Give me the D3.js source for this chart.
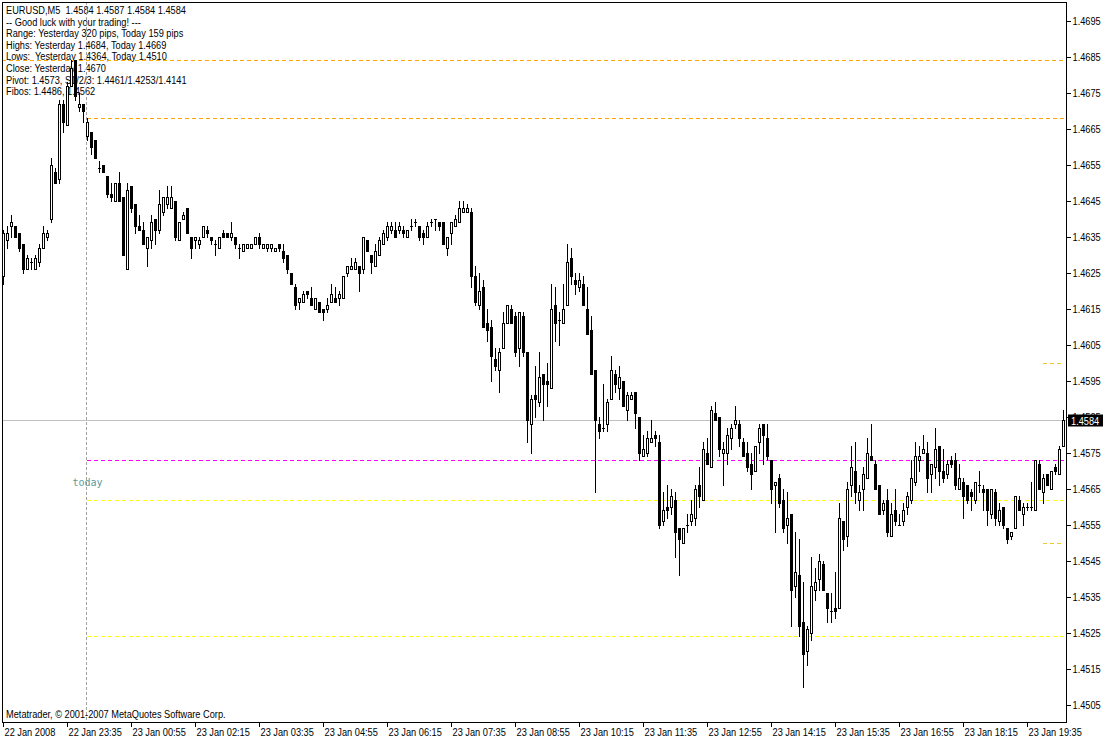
<!DOCTYPE html>
<html><head><meta charset="utf-8">
<script src="https://cdn.jsdelivr.net/npm/d3@7/dist/d3.min.js"></script>
<style>body{margin:0;background:#fff;}svg{display:block;}</style>
</head><body>
<svg id="chart" width="1104" height="740"></svg>
<script>
// ---- data (EURUSD M5, 22 Jan 2008 22:15 onwards) ----
const open = [
1.4624,1.4634,1.4638,1.4638,1.4636,1.4633,1.4626,1.4628,1.4626,1.4628,
1.4632,1.4635,1.4640,1.4653,1.4651,1.4672,1.4666,1.4677,1.4684,1.4671,
1.4672,1.4663,1.4664,1.4662,1.4654,1.4655,1.4652,1.4647,1.4645,1.4650,
1.4646,1.4626,1.4649,1.4644,1.4638,1.4637,1.4632,1.4634,1.4640,1.4637,
1.4642,1.4644,1.4643,1.4645,1.4634,1.4640,1.4643,1.4635,1.4634,1.4633,
1.4635,1.4637,1.4635,1.4633,1.4632,1.4636,1.4636,1.4635,1.4635,1.4632,
1.4631,1.4632,1.4632,1.4633,1.4635,1.4632,1.4632,1.4632,1.4631,1.4633,
1.4631,1.4630,1.4625,1.4621,1.4617,1.4617,1.4620,1.4618,1.4615,1.4617,
1.4615,1.4615,1.4617,1.4618,1.4618,1.4618,1.4625,1.4626,1.4626,1.4627,
1.4626,1.4634,1.4630,1.4627,1.4630,1.4633,1.4635,1.4637,1.4637,1.4637,
1.4637,1.4635,1.4638,1.4639,1.4638,1.4636,1.4635,1.4639,1.4640,1.4639,
1.4639,1.4632,1.4636,1.4638,1.4639,1.4642,1.4642,1.4642,1.4624,1.4616,
1.4621,1.4611,1.4610,1.4601,1.4598,1.4604,1.4611,1.4615,1.4613,1.4604,
1.4613,1.4603,1.4583,1.4591,1.4589,1.4597,1.4595,1.4593,1.4616,1.4612,
1.4611,1.4616,1.4629,1.4623,1.4621,1.4622,1.4615,1.4609,1.4598,1.4583,
1.4582,1.4583,1.4590,1.4597,1.4593,1.4595,1.4587,1.4590,1.4592,1.4585,
1.4574,1.4575,1.4578,1.4580,1.4578,1.4556,1.4560,1.4560,1.4562,1.4554,
1.4550,1.4555,1.4556,1.4557,1.4566,1.4562,1.4575,1.4571,1.4586,1.4585,
1.4575,1.4575,1.4579,1.4583,1.4583,1.4578,1.4575,1.4572,1.4570,1.4578,
1.4583,1.4579,1.4573,1.4566,1.4568,1.4562,1.4555,1.4558,1.4538,1.4541,
1.4528,1.4520,1.4525,1.4537,1.4540,1.4544,1.4536,1.4531,1.4532,1.4532,
1.4556,1.4552,1.4566,1.4570,1.4562,1.4565,1.4568,1.4574,1.4572,1.4566,
1.4559,1.4562,1.4552,1.4559,1.4555,1.4556,1.4560,1.4562,1.4567,1.4573,
1.4575,1.4575,1.4569,1.4571,1.4577,1.4570,1.4569,1.4573,1.4573,1.4565,
1.4567,1.4566,1.4564,1.4562,1.4566,1.4565,1.4565,1.4558,1.4564,1.4556,
1.4560,1.4554,1.4552,1.4554,1.4562,1.4558,1.4560,1.4560,1.4559,1.4572,
1.4564,1.4569,1.4565,1.4571,1.4569,1.4577];
const high = [
1.4637,1.4638,1.4641,1.4638,1.4636,1.4633,1.4630,1.4629,1.4630,1.4633,
1.4638,1.4637,1.4657,1.4654,1.4673,1.4673,1.4678,1.4684,1.4684,1.4675,
1.4672,1.4668,1.4664,1.4662,1.4656,1.4655,1.4652,1.4650,1.4650,1.4653,
1.4646,1.4650,1.4649,1.4644,1.4641,1.4639,1.4635,1.4641,1.4640,1.4648,
1.4646,1.4649,1.4649,1.4645,1.4639,1.4642,1.4643,1.4635,1.4635,1.4635,
1.4638,1.4638,1.4635,1.4634,1.4635,1.4637,1.4636,1.4639,1.4635,1.4633,
1.4633,1.4633,1.4633,1.4635,1.4636,1.4633,1.4633,1.4633,1.4632,1.4633,
1.4633,1.4630,1.4625,1.4622,1.4618,1.4620,1.4620,1.4621,1.4618,1.4617,
1.4615,1.4618,1.4622,1.4621,1.4620,1.4624,1.4627,1.4629,1.4629,1.4627,
1.4635,1.4634,1.4630,1.4633,1.4635,1.4637,1.4639,1.4639,1.4639,1.4639,
1.4638,1.4637,1.4640,1.4640,1.4638,1.4637,1.4639,1.4640,1.4640,1.4639,
1.4639,1.4635,1.4639,1.4641,1.4645,1.4645,1.4644,1.4643,1.4627,1.4625,
1.4623,1.4615,1.4612,1.4604,1.4604,1.4614,1.4616,1.4616,1.4614,1.4614,
1.4614,1.4603,1.4591,1.4599,1.4603,1.4597,1.4600,1.4622,1.4621,1.4614,
1.4622,1.4633,1.4632,1.4625,1.4625,1.4624,1.4621,1.4613,1.4598,1.4585,
1.4594,1.4590,1.4602,1.4598,1.4599,1.4595,1.4592,1.4592,1.4592,1.4585,
1.4580,1.4581,1.4584,1.4581,1.4580,1.4564,1.4566,1.4565,1.4564,1.4554,
1.4554,1.4558,1.4562,1.4566,1.4571,1.4578,1.4579,1.4588,1.4589,1.4585,
1.4578,1.4582,1.4583,1.4588,1.4584,1.4579,1.4578,1.4575,1.4577,1.4583,
1.4583,1.4583,1.4573,1.4567,1.4569,1.4565,1.4564,1.4558,1.4553,1.4551,
1.4539,1.4527,1.4546,1.4543,1.4547,1.4545,1.4536,1.4536,1.4542,1.4561,
1.4556,1.4567,1.4577,1.4578,1.4566,1.4571,1.4579,1.4583,1.4573,1.4566,
1.4562,1.4565,1.4561,1.4565,1.4558,1.4561,1.4564,1.4573,1.4578,1.4577,
1.4580,1.4578,1.4572,1.4582,1.4577,1.4576,1.4573,1.4574,1.4575,1.4572,
1.4568,1.4566,1.4565,1.4567,1.4570,1.4566,1.4565,1.4565,1.4565,1.4561,
1.4560,1.4554,1.4553,1.4563,1.4563,1.4561,1.4561,1.4567,1.4573,1.4573,
1.4569,1.4569,1.4570,1.4572,1.4577,1.4587];
const low = [
1.4622,1.4632,1.4635,1.4635,1.4631,1.4625,1.4626,1.4626,1.4626,1.4627,
1.4632,1.4634,1.4639,1.4650,1.4650,1.4664,1.4666,1.4677,1.4673,1.4670,
1.4667,1.4662,1.4658,1.4657,1.4653,1.4653,1.4646,1.4645,1.4645,1.4645,
1.4630,1.4626,1.4642,1.4636,1.4637,1.4633,1.4627,1.4632,1.4633,1.4636,
1.4641,1.4643,1.4643,1.4634,1.4634,1.4640,1.4636,1.4629,1.4632,1.4632,
1.4635,1.4635,1.4633,1.4630,1.4632,1.4635,1.4635,1.4634,1.4632,1.4629,
1.4631,1.4632,1.4632,1.4633,1.4632,1.4632,1.4631,1.4631,1.4631,1.4631,
1.4628,1.4625,1.4622,1.4615,1.4615,1.4617,1.4618,1.4616,1.4615,1.4614,
1.4612,1.4614,1.4617,1.4617,1.4616,1.4618,1.4624,1.4626,1.4626,1.4620,
1.4625,1.4631,1.4625,1.4627,1.4630,1.4633,1.4634,1.4636,1.4635,1.4636,
1.4635,1.4635,1.4637,1.4638,1.4634,1.4633,1.4635,1.4638,1.4637,1.4637,
1.4633,1.4630,1.4633,1.4638,1.4639,1.4642,1.4642,1.4621,1.4616,1.4615,
1.4610,1.4606,1.4595,1.4598,1.4592,1.4604,1.4611,1.4611,1.4602,1.4599,
1.4602,1.4578,1.4575,1.4585,1.4588,1.4584,1.4588,1.4593,1.4606,1.4605,
1.4611,1.4616,1.4622,1.4619,1.4620,1.4616,1.4608,1.4597,1.4564,1.4579,
1.4581,1.4581,1.4590,1.4592,1.4590,1.4588,1.4584,1.4590,1.4582,1.4573,
1.4574,1.4574,1.4578,1.4577,1.4554,1.4555,1.4557,1.4558,1.4546,1.4541,
1.4550,1.4553,1.4555,1.4555,1.4560,1.4562,1.4572,1.4571,1.4584,1.4574,
1.4566,1.4572,1.4576,1.4582,1.4577,1.4574,1.4570,1.4565,1.4570,1.4575,
1.4572,1.4573,1.4561,1.4553,1.4560,1.4553,1.4550,1.4527,1.4535,1.4524,
1.4510,1.4516,1.4523,1.4534,1.4537,1.4537,1.4528,1.4528,1.4529,1.4532,
1.4548,1.4549,1.4563,1.4561,1.4559,1.4559,1.4568,1.4573,1.4565,1.4558,
1.4558,1.4552,1.4552,1.4555,1.4555,1.4555,1.4558,1.4561,1.4566,1.4570,
1.4575,1.4564,1.4564,1.4568,1.4566,1.4567,1.4568,1.4571,1.4565,1.4565,
1.4557,1.4561,1.4559,1.4561,1.4564,1.4559,1.4555,1.4557,1.4555,1.4555,
1.4554,1.4550,1.4551,1.4554,1.4559,1.4555,1.4559,1.4559,1.4559,1.4565,
1.4561,1.4566,1.4565,1.4569,1.4569,1.4577];
const close = [
1.4636,1.4636,1.4639,1.4635,1.4632,1.4626,1.4629,1.4628,1.4629,1.4632,
1.4636,1.4636,1.4655,1.4650,1.4672,1.4667,1.4677,1.4682,1.4674,1.4672,
1.4670,1.4667,1.4660,1.4657,1.4654,1.4653,1.4647,1.4646,1.4650,1.4645,
1.4630,1.4648,1.4643,1.4638,1.4637,1.4633,1.4635,1.4639,1.4637,1.4644,
1.4646,1.4646,1.4646,1.4635,1.4639,1.4641,1.4636,1.4632,1.4635,1.4634,
1.4638,1.4636,1.4634,1.4633,1.4635,1.4635,1.4635,1.4636,1.4633,1.4632,
1.4633,1.4633,1.4633,1.4635,1.4633,1.4633,1.4633,1.4633,1.4632,1.4632,
1.4629,1.4626,1.4622,1.4616,1.4618,1.4619,1.4619,1.4616,1.4618,1.4614,
1.4614,1.4616,1.4619,1.4617,1.4619,1.4624,1.4627,1.4627,1.4628,1.4625,
1.4635,1.4631,1.4628,1.4631,1.4634,1.4636,1.4638,1.4638,1.4635,1.4638,
1.4636,1.4637,1.4638,1.4639,1.4635,1.4635,1.4638,1.4639,1.4640,1.4638,
1.4633,1.4635,1.4639,1.4640,1.4643,1.4643,1.4643,1.4624,1.4617,1.4620,
1.4610,1.4609,1.4602,1.4599,1.4603,1.4611,1.4616,1.4611,1.4603,1.4614,
1.4603,1.4584,1.4590,1.4590,1.4596,1.4594,1.4594,1.4615,1.4611,1.4612,
1.4615,1.4628,1.4624,1.4622,1.4623,1.4616,1.4608,1.4597,1.4584,1.4581,
1.4582,1.4589,1.4598,1.4594,1.4596,1.4588,1.4591,1.4591,1.4586,1.4575,
1.4576,1.4579,1.4579,1.4579,1.4555,1.4559,1.4559,1.4563,1.4553,1.4551,
1.4554,1.4555,1.4558,1.4565,1.4563,1.4576,1.4572,1.4587,1.4584,1.4576,
1.4576,1.4580,1.4582,1.4584,1.4579,1.4574,1.4571,1.4569,1.4577,1.4582,
1.4580,1.4574,1.4565,1.4567,1.4561,1.4554,1.4557,1.4537,1.4542,1.4527,
1.4519,1.4526,1.4538,1.4539,1.4545,1.4537,1.4532,1.4531,1.4531,1.4557,
1.4551,1.4565,1.4571,1.4564,1.4564,1.4569,1.4575,1.4573,1.4565,1.4558,
1.4561,1.4553,1.4558,1.4556,1.4555,1.4559,1.4563,1.4568,1.4574,1.4574,
1.4576,1.4568,1.4572,1.4576,1.4570,1.4568,1.4572,1.4572,1.4566,1.4568,
1.4563,1.4562,1.4563,1.4567,1.4566,1.4564,1.4559,1.4565,1.4557,1.4559,
1.4555,1.4551,1.4553,1.4563,1.4559,1.4560,1.4560,1.4560,1.4573,1.4565,
1.4568,1.4566,1.4570,1.4570,1.4576,1.4584];

const timeTickBars = [0,16,32,48,64,80,96,112,128,144,160,176,192,208,224,240,256];
const timeTickLabels = ["22 Jan 2008","22 Jan 23:35","23 Jan 00:55","23 Jan 02:15","23 Jan 03:35","23 Jan 04:55","23 Jan 06:15","23 Jan 07:35","23 Jan 08:55","23 Jan 10:15","23 Jan 11:35","23 Jan 12:55","23 Jan 14:15","23 Jan 15:35","23 Jan 16:55","23 Jan 18:15","23 Jan 19:35"];
const priceTicks = [1.4505,1.4515,1.4525,1.4535,1.4545,1.4555,1.4565,1.4575,1.4585,1.4595,1.4605,1.4615,1.4625,1.4635,1.4645,1.4655,1.4665,1.4675,1.4685,1.4695];

const infoLines = [
  "EURUSD,M5  1.4584 1.4587 1.4584 1.4584",
  "-- Good luck with your trading! ---",
  "Range: Yesterday 320 pips, Today 159 pips",
  "Highs: Yesterday 1.4684, Today 1.4669",
  "Lows:  Yesterday 1.4364, Today 1.4510",
  "Close: Yesterday 1.4670",
  "Pivot: 1.4573, S1/2/3: 1.4461/1.4253/1.4141",
  "Fibos: 1.4486, 1.4562"
];
const copyrightText = "Metatrader, \u00A9 2001-2007 MetaQuotes Software Corp.";
const todayLabel = "today";
const todayStartBar = 21;
const bidPrice = 1.4584;
const yesterdayHigh = 1.4684;
const todayLevels = [1.4668, 1.4573, 1.4562, 1.4524];   // today high, pivot, fibo lines
const shortLevels = [1.4600, 1.4550];

// ---- layout ----
const L = 2, R = 1066, T = 2, B = 722;
const FONT = "'Liberation Sans', Arial, sans-serif";
const SX = 0.84;   // horizontal squeeze to mimic the narrow terminal font
const svg = d3.select("#chart");
svg.append("rect").attr("width",1104).attr("height",740).attr("fill","#fff");

const x = d3.scaleLinear().domain([0, open.length - 1]).range([3, 3 + 4*(open.length - 1)]);
const y = d3.scaleLinear().domain([1.45002, 1.47002]).range([B, T]);
const py = p => Math.round(y(p)) + 0.5;

function label(parent, tx, ty, str, fill) {
  return parent.append("text").attr("transform", `translate(${tx},${ty}) scale(${SX},1)`)
    .attr("font-family", FONT).attr("font-size", 11).attr("fill", fill || "#000")
    .attr("xml:space", "preserve").style("white-space", "pre").text(str);
}

// info text
const info = svg.append("g");
infoLines.forEach((t, k) => label(info, 6, 14 + 11.6*k, t));
label(svg, 6, 718, copyrightText);

// level lines
const lines = svg.append("g").attr("shape-rendering","crispEdges").attr("fill","none");
lines.append("line").attr("x1", L).attr("x2", R).attr("y1", py(bidPrice)).attr("y2", py(bidPrice)).attr("stroke", "#c0c0c0");
lines.append("line").attr("x1", L).attr("x2", R).attr("y1", py(yesterdayHigh)).attr("y2", py(yesterdayHigh))
  .attr("stroke", "#FFA500").attr("stroke-dasharray", "4,3");
const xToday = Math.round(x(todayStartBar - 0.25)) + 0.5;
const todayColors = ["#FFA500", "#FF00FF", "#FFFF00", "#FFFF00"];
todayLevels.forEach((p, k) => {
  lines.append("line").attr("x1", xToday).attr("x2", R).attr("y1", py(p)).attr("y2", py(p))
    .attr("stroke", todayColors[k]).attr("stroke-dasharray", "4,3");
});
shortLevels.forEach(p => {
  lines.append("line").attr("x1", 1043).attr("x2", 1064).attr("y1", py(p)).attr("y2", py(p))
    .attr("stroke", "#F2C830").attr("stroke-dasharray", "4,3");
});
lines.append("line").attr("x1", xToday).attr("x2", xToday).attr("y1", T).attr("y2", B)
  .attr("stroke", "#a0a0a0").attr("stroke-dasharray", "3,2");
svg.append("text").attr("x", xToday - 14).attr("y", 486).attr("font-family", "'DejaVu Sans Mono', monospace")
  .attr("font-size", 10).attr("letter-spacing", 0).attr("fill", "#5a9aa0").text(todayLabel);

// candles
const g = svg.append("g").attr("shape-rendering","crispEdges");
open.forEach((o, i) => {
  const c = close[i];
  const cx = Math.round(x(i));
  const yh = Math.round(y(high[i])), yl = Math.round(y(low[i]));
  const yo = Math.round(y(o)), yc = Math.round(y(c));
  g.append("rect").attr("x", cx).attr("y", yh).attr("width", 1).attr("height", Math.max(1, yl - yh + 1)).attr("fill", "#000");
  const top = Math.min(yo, yc), bot = Math.max(yo, yc);
  if (bot - top < 1) {
    g.append("rect").attr("x", cx - 1).attr("y", top).attr("width", 3).attr("height", 1).attr("fill", "#000");
  } else {
    g.append("rect").attr("x", cx - 1).attr("y", top).attr("width", 3).attr("height", bot - top + 1).attr("fill", "#000");
    if (c > o && bot - top >= 2) {
      g.append("rect").attr("x", cx).attr("y", top + 1).attr("width", 1).attr("height", bot - top - 1).attr("fill", "#fff");
    }
  }
});

// frame
svg.append("rect").attr("x", L + 0.5).attr("y", T + 0.5).attr("width", R - L).attr("height", B - T)
  .attr("fill", "none").attr("stroke", "#000").attr("shape-rendering","crispEdges");

// right price axis
const yAxis = d3.axisRight(y).tickValues(priceTicks).tickFormat(d3.format(".4f")).tickSize(4).tickSizeOuter(0).tickPadding(2);
const ya = svg.append("g").attr("transform", `translate(${R + 0.5},0)`).call(yAxis);
ya.select(".domain").remove();
ya.selectAll("line").attr("stroke", "#000").attr("shape-rendering","crispEdges");
ya.selectAll("text").attr("font-family", FONT).attr("font-size", 11).attr("fill", "#000")
  .attr("x", null).attr("dy", null).attr("text-anchor", "start")
  .attr("transform", `translate(6,4) scale(${SX},1)`);

// bottom time axis
const xAxis = d3.axisBottom(x).tickValues(timeTickBars).tickFormat((d, k) => timeTickLabels[k]).tickSize(4).tickSizeOuter(0);
const xa = svg.append("g").attr("transform", `translate(0,${B + 0.5})`).call(xAxis);
xa.select(".domain").remove();
xa.selectAll("line").attr("stroke", "#000").attr("shape-rendering","crispEdges");
xa.selectAll("text").attr("font-family", FONT).attr("font-size", 11).attr("fill", "#000")
  .attr("text-anchor", "start").attr("dy", null).attr("y", null)
  .attr("transform", `translate(1,13) scale(${SX},1)`);

// bid price label
const by = py(bidPrice);
svg.append("rect").attr("x", 1068).attr("y", by - 6).attr("width", 35).attr("height", 12).attr("fill", "#000");
label(svg, 1071, by + 4, bidPrice.toFixed(4), "#fff");
</script>
</body></html>
